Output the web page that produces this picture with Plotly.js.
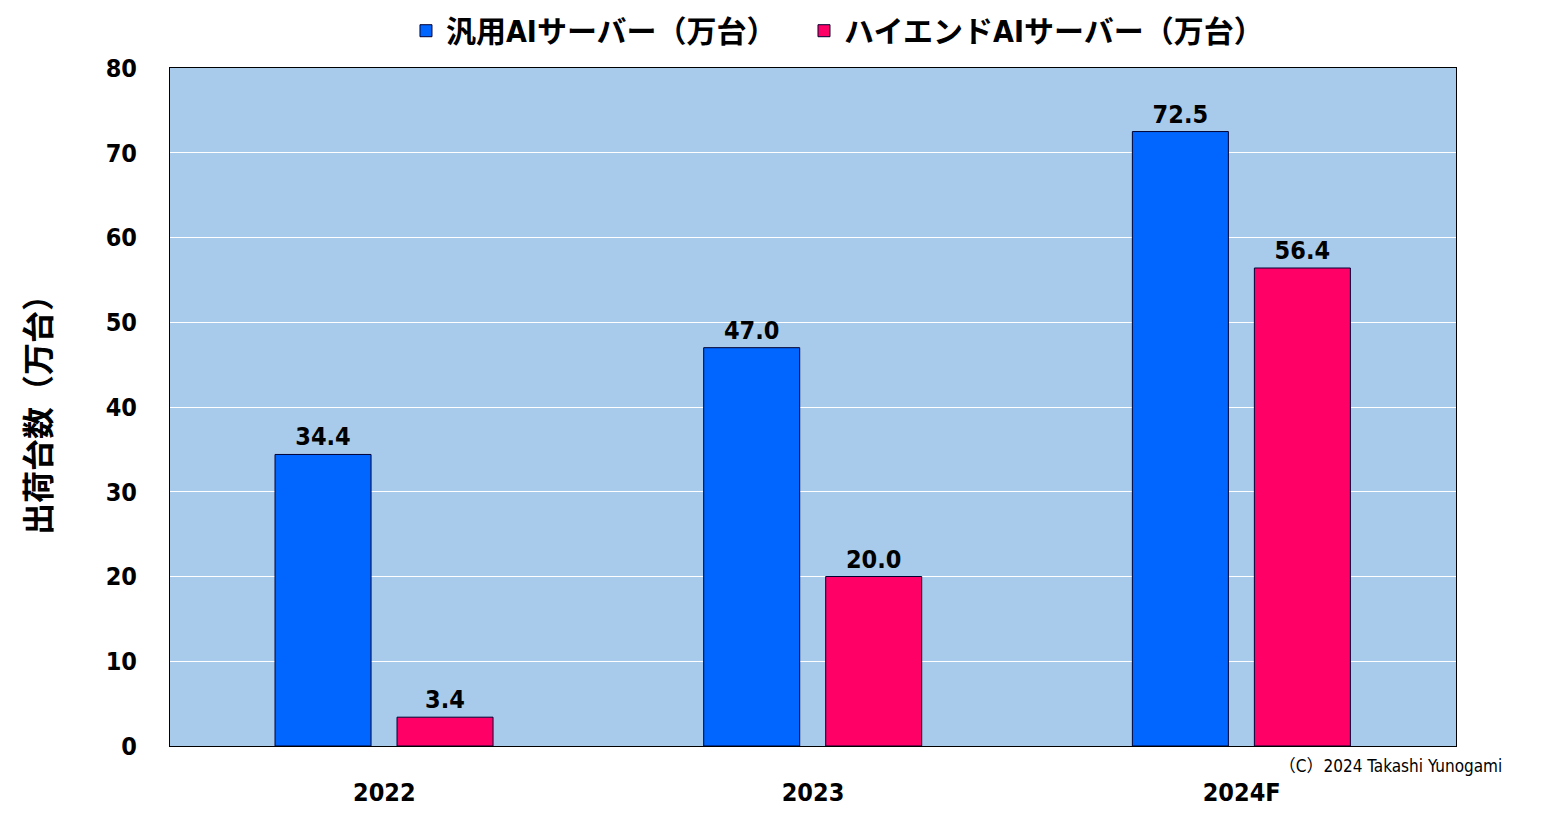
<!DOCTYPE html>
<html>
<head>
<meta charset="utf-8">
<script src="https://cdn.plot.ly/plotly-3.0.1.min.js"></script>
<style>
html,body{margin:0;padding:0;background:#fff;}
#chart{width:1543px;height:818px;}
#chart text{font-stretch:condensed;}
</style>
</head>
<body>
<div id="chart"></div>
<script>
const categories = ['2022', '2023', '2024F'];
const generalServers = [34.4, 47.0, 72.5];
const highEndServers = [3.4, 20.0, 56.4];
const seriesNames = ['汎用AIサーバー（万台）', 'ハイエンドAIサーバー（万台）'];
const yTicks = [0, 10, 20, 30, 40, 50, 60, 70, 80];

const FONT = '"Liberation Sans Narrow", "DejaVu Sans", "Noto Sans CJK JP", sans-serif';
const labelFont = {family: FONT, size: 25, color: '#000', weight: 'bold'};
const legendFont = {family: FONT, size: 30, color: '#000', weight: 'bold'};

const traces = [
  {
    type: 'bar', name: seriesNames[0], x: categories, y: generalServers,
    offset: -0.255, width: 0.224, legend: 'legend',
    marker: {color: '#0066FF', line: {color: '#000033', width: 1}},
    text: generalServers.map(v => v.toFixed(1)), textposition: 'outside',
    textfont: labelFont, cliponaxis: false
  },
  {
    type: 'bar', name: seriesNames[1], x: categories, y: highEndServers,
    offset: 0.0296, width: 0.224, legend: 'legend2',
    marker: {color: '#FF0066', line: {color: '#000033', width: 1}},
    text: highEndServers.map(v => v.toFixed(1)), textposition: 'outside',
    textfont: labelFont, cliponaxis: false
  }
];

const layout = {
  width: 1543, height: 818,
  margin: {l: 170, r: 87, t: 68, b: 72, autoexpand: false},
  paper_bgcolor: '#ffffff',
  plot_bgcolor: '#A9CBEB',
  barmode: 'overlay',
  showlegend: true,
  legend: {
    orientation: 'h', x: 0.1835, xanchor: 'left', y: 1.055, yanchor: 'middle',
    bgcolor: 'rgba(0,0,0,0)', font: legendFont, itemwidth: 30
  },
  legend2: {
    orientation: 'h', x: 0.493, xanchor: 'left', y: 1.055, yanchor: 'middle',
    bgcolor: 'rgba(0,0,0,0)', font: legendFont, itemwidth: 30
  },
  font: {family: FONT, color: '#000'},
  xaxis: {
    type: 'category', categoryorder: 'array', categoryarray: categories,
    showline: true, linecolor: '#000', linewidth: 1, mirror: true,
    ticks: 'outside', ticklen: 24, tickcolor: 'rgba(0,0,0,0)',
    tickfont: {family: FONT, size: 25, color: '#000', weight: 'bold'},
    showgrid: false, fixedrange: true
  },
  yaxis: {
    range: [0, 80], tickvals: yTicks, ticktext: yTicks.map(String),
    showline: true, linecolor: '#000', linewidth: 1, mirror: true,
    showgrid: true, gridcolor: '#ffffff', gridwidth: 1, zeroline: false,
    ticks: 'outside', ticklen: 27, tickcolor: 'rgba(0,0,0,0)',
    tickfont: {family: FONT, size: 25, color: '#000', weight: 'bold'},
    title: {text: '出荷台数（万台）', font: {family: '"Noto Sans CJK JP", sans-serif', size: 32, color: '#000', weight: 'bold'}, standoff: 42},
    fixedrange: true
  },
  annotations: [
    {
      text: '（C）2024 Takashi Yunogami', xref: 'paper', yref: 'paper',
      x: 0.852, y: -0.012, xanchor: 'left', yanchor: 'top', showarrow: false,
      font: {family: FONT, size: 17, color: '#000'}
    }
  ]
};

Plotly.newPlot('chart', traces, layout, {displayModeBar: false, staticPlot: true});
</script>
</body>
</html>
